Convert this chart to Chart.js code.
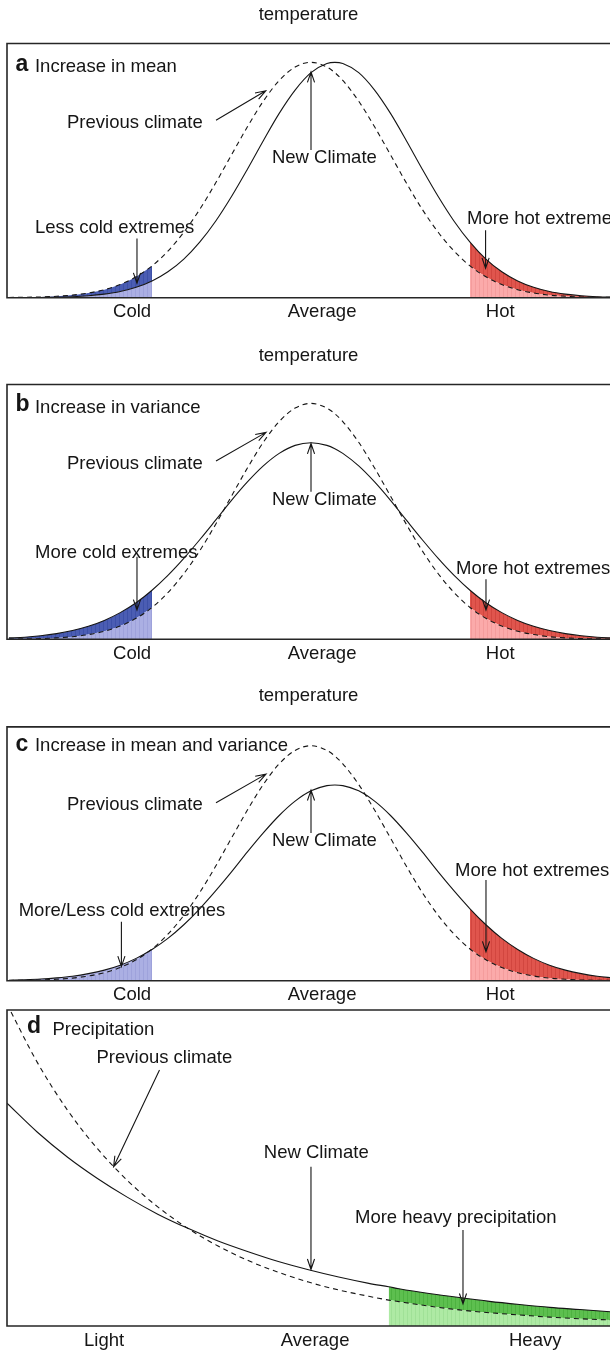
<!DOCTYPE html>
<html>
<head>
<meta charset="utf-8">
<script src="https://cdn.jsdelivr.net/npm/chart.js@4.4.1/dist/chart.umd.min.js"></script>
<style>
  html, body { margin: 0; padding: 0; background: #ffffff; width: 610px; height: 1353px; overflow: hidden; }
  .panel { position: absolute; left: 0; width: 610px; }
  canvas { display: block; }
</style>
</head>
<body>
<div class="panel" style="top:0px;height:330px"><canvas id="pa" width="610" height="330"></canvas></div>
<div class="panel" style="top:340px;height:330px"><canvas id="pb" width="610" height="330"></canvas></div>
<div class="panel" style="top:680px;height:325px"><canvas id="pc" width="610" height="325"></canvas></div>
<div class="panel" style="top:1000px;height:353px"><canvas id="pd" width="610" height="353"></canvas></div>
<script>
// ---------- data ----------
// temperature panels: x in units of the previous climate's standard deviation
const tempX = [-3.8,-3.6,-3.4,-3.2,-3.0,-2.8,-2.6,-2.4,-2.2,-2.0,-1.8,-1.6,-1.4,-1.2,-1.0,-0.8,-0.6,-0.4,-0.2,0,
               0.2,0.3,0.4,0.6,0.8,1.0,1.2,1.4,1.6,1.8,2.0,2.2,2.4,2.6,2.8,3.0,3.2,3.4,3.6,3.8];
const prevTemp = [0.001,0.002,0.003,0.006,0.011,0.020,0.034,0.056,0.089,0.135,0.198,0.278,0.375,0.487,0.607,0.726,0.835,0.923,0.980,1.000,
                  0.980,0.956,0.923,0.835,0.726,0.607,0.487,0.375,0.278,0.198,0.135,0.089,0.056,0.034,0.020,0.011,0.006,0.003,0.002,0.001];
const newMean = [0.000,0.000,0.001,0.002,0.004,0.008,0.015,0.026,0.044,0.071,0.110,0.164,0.236,0.325,0.430,0.546,0.667,0.783,0.882,0.956,
                 0.995,1.000,0.995,0.956,0.882,0.783,0.667,0.546,0.430,0.325,0.236,0.164,0.110,0.071,0.044,0.026,0.015,0.008,0.004,0.002];
const newVariance = [0.006,0.009,0.015,0.024,0.037,0.055,0.080,0.113,0.155,0.208,0.271,0.343,0.422,0.505,0.589,0.667,0.735,0.788,0.822,0.833,
                     0.822,0.808,0.788,0.735,0.667,0.589,0.505,0.422,0.343,0.271,0.208,0.155,0.113,0.080,0.055,0.037,0.024,0.015,0.009,0.006];
const newMeanVariance = [0.002,0.004,0.007,0.012,0.019,0.030,0.045,0.066,0.095,0.133,0.180,0.238,0.306,0.382,0.463,0.548,0.629,0.703,0.764,0.808,
                         0.830,0.833,0.830,0.808,0.764,0.703,0.629,0.548,0.463,0.382,0.306,0.238,0.180,0.133,0.095,0.066,0.045,0.030,0.019,0.012];
const coldLimit = -2.0;
const hotLimit = 2.0;
const tempTickValues = [-2.25, 0.14, 2.38];
const tempTickLabels = ['Cold', 'Average', 'Hot'];

// precipitation panel
const precipX = [0,0.5,1,1.5,2,2.5,3,3.5,4,4.5,5,5.5,6,6.33,6.5,7,7.5,8,8.5,9,9.5,10];
const prevPrecip = [1.019,0.835,0.684,0.561,0.460,0.377,0.309,0.253,0.207,0.170,0.139,0.114,0.094,0.082,0.077,0.063,0.051,0.042,0.035,0.028,0.023,0.019];
const newPrecip  = [0.705,0.614,0.535,0.467,0.407,0.354,0.309,0.269,0.235,0.204,0.178,0.155,0.135,0.124,0.118,0.103,0.090,0.078,0.068,0.059,0.052,0.045];
const heavyLimit = 6.33;
const precipTickValues = [1.61, 5.11, 8.76];
const precipTickLabels = ['Light', 'Average', 'Heavy'];

const titleText = 'temperature';

// annotation texts and arrows (data units)
const notesA = [
  { t: 'a', x: -3.717, y: 0.962, bold: true },
  { t: 'Increase in mean', x: -3.472, y: 0.959 },
  { t: 'Previous climate', x: -3.069, y: 0.719 },
  { t: 'New Climate', x: -0.491, y: 0.573 },
  { t: 'Less cold extremes', x: -3.472, y: 0.273 },
  { t: 'More hot extremes', x: 1.962, y: 0.313 }
];
const arrowsA = [[-1.195,0.754,-0.569,0.879],[0,0.627,0,0.959],[-2.189,0.252,-2.189,0.061],[2.196,0.287,2.196,0.125]];
const notesB = [
  { t: 'b', x: -3.717, y: 0.966, bold: true },
  { t: 'Increase in variance', x: -3.472, y: 0.961 },
  { t: 'Previous climate', x: -3.069, y: 0.720 },
  { t: 'New Climate', x: -0.491, y: 0.569 },
  { t: 'More cold extremes', x: -3.472, y: 0.343 },
  { t: 'More hot extremes', x: 1.824, y: 0.275 }
];
const arrowsB = [[-1.195,0.756,-0.566,0.877],[0,0.625,0,0.830],[-2.189,0.350,-2.189,0.124],[2.201,0.255,2.201,0.124]];
const notesC = [
  { t: 'c', x: -3.717, y: 0.978, bold: true },
  { t: 'Increase in mean and variance', x: -3.472, y: 0.978 },
  { t: 'Previous climate', x: -3.069, y: 0.726 },
  { t: 'New Climate', x: -0.491, y: 0.574 },
  { t: 'More hot extremes', x: 1.811, y: 0.445 },
  { t: 'More/Less cold extremes', x: -3.677, y: 0.275 }
];
const arrowsC = [[-1.195,0.757,-0.566,0.879],[0,0.629,0,0.811],[2.201,0.428,2.201,0.123],[-2.385,0.251,-2.385,0.060]];
const notesD = [
  { t: 'd', x: 0.332, y: 0.926, bold: true },
  { t: 'Precipitation', x: 0.755, y: 0.921 },
  { t: 'Previous climate', x: 1.484, y: 0.833 },
  { t: 'New Climate', x: 4.259, y: 0.531 },
  { t: 'More heavy precipitation', x: 5.771, y: 0.327 }
];
const arrowsD = [[2.529,0.810,1.768,0.504],[5.041,0.504,5.041,0.179],[7.562,0.304,7.562,0.070]];

// ---------- styling ----------
const FONT = '"Liberation Sans", Arial, Helvetica, sans-serif';
const INK = '#151515';
const TXT = 18.5;
const colors = {
  blueDark: ['#4b5db3', '#3d50a8'], blueLight: ['#abafe3', '#9ea2db'],
  redDark: ['#e0554d', '#d2463f'], redLight: ['#fbaaaa', '#f49c9c'],
  greenDark: ['#5dbf4f', '#4db240'], greenLight: ['#aeeaa4', '#a0e197']
};

function stripes(ctx, pair) {
  const c = document.createElement('canvas');
  c.width = 4; c.height = 4;
  const g = c.getContext('2d');
  g.fillStyle = pair[0]; g.fillRect(0, 0, 4, 4);
  g.fillStyle = pair[1]; g.fillRect(3, 0, 1, 4);
  return ctx.createPattern(c, 'repeat');
}

function pts(xs, ys, test) {
  const out = [];
  for (let i = 0; i < xs.length; i++) if (!test || test(xs[i])) out.push({ x: xs[i], y: ys[i] });
  return out;
}

function regionSets(ctx, xs, a, b, test, lightPair, darkPair) {
  const lo = [], hi = [];
  for (let i = 0; i < xs.length; i++) {
    if (!test(xs[i])) continue;
    lo.push({ x: xs[i], y: Math.min(a[i], b[i]) });
    hi.push({ x: xs[i], y: Math.max(a[i], b[i]) });
  }
  const common = { borderWidth: 0, pointRadius: 0, cubicInterpolationMode: 'monotone', order: 2 };
  return [
    Object.assign({ data: lo, fill: 'origin', backgroundColor: stripes(ctx, lightPair) }, common),
    Object.assign({ data: hi, fill: '-1', backgroundColor: stripes(ctx, darkPair) }, common)
  ];
}

function arrow(ctx, x1, y1, x2, y2) {
  const a = Math.atan2(y2 - y1, x2 - x1), L = 11, w = 0.33;
  ctx.beginPath();
  ctx.moveTo(x1, y1); ctx.lineTo(x2, y2);
  ctx.moveTo(x2 - L * Math.cos(a - w), y2 - L * Math.sin(a - w));
  ctx.lineTo(x2, y2);
  ctx.lineTo(x2 - L * Math.cos(a + w), y2 - L * Math.sin(a + w));
  ctx.stroke();
}

const decorPlugin = {
  id: 'decor',
  afterDatasetsDraw(chart) {
    const o = chart.options.plugins.decor;
    const { ctx, chartArea: ca } = chart;
    const sx = chart.scales.x, sy = chart.scales.y;
    ctx.save();
    // frame (right side lies outside the picture)
    ctx.strokeStyle = '#262626';
    ctx.lineWidth = 1.6;
    ctx.beginPath();
    ctx.moveTo(chart.width + 5, ca.top); ctx.lineTo(ca.left, ca.top);
    ctx.lineTo(ca.left, ca.bottom); ctx.lineTo(chart.width + 5, ca.bottom);
    ctx.stroke();
    // arrows
    ctx.strokeStyle = INK; ctx.lineWidth = 1.1;
    o.arrows.forEach(r => arrow(ctx, sx.getPixelForValue(r[0]), sy.getPixelForValue(r[1]),
                                     sx.getPixelForValue(r[2]), sy.getPixelForValue(r[3])));
    // texts
    ctx.fillStyle = INK;
    ctx.textAlign = 'left';
    ctx.textBaseline = 'alphabetic';
    o.notes.forEach(n => {
      ctx.font = n.bold ? 'bold 23px ' + FONT : TXT + 'px ' + FONT;
      ctx.fillText(n.t, sx.getPixelForValue(n.x), sy.getPixelForValue(n.y));
    });
    ctx.restore();
  }
};

function makePanel(id, spec) {
  const canvas = document.getElementById(id);
  const ctx = canvas.getContext('2d');
  const curveCommon = { pointRadius: 0, fill: false, borderColor: INK, borderWidth: 1.1, cubicInterpolationMode: 'monotone', order: 0 };
  const datasets = [];
  spec.regions.forEach(r => regionSets(ctx, spec.xs, spec.prev, spec.next, r.test, r.light, r.dark).forEach(d => datasets.push(d)));
  datasets.push(Object.assign({ label: 'Previous climate', data: pts(spec.xs, spec.prev), borderDash: [5, 4] }, curveCommon));
  datasets.push(Object.assign({ label: 'New Climate', data: pts(spec.xs, spec.next) }, curveCommon));
  return new Chart(ctx, {
    type: 'line',
    data: { datasets },
    options: {
      responsive: false, animation: false, devicePixelRatio: 1,
      layout: { padding: { left: 7, right: 0, top: spec.padTop || 0, bottom: 0 } },
      plugins: {
        legend: { display: false }, tooltip: { enabled: false },
        title: {
          display: !!spec.title, text: spec.title || '', color: INK,
          font: { size: TXT, family: FONT, weight: 'normal', lineHeight: 1.2 },
          padding: { top: spec.titleTop || 0, bottom: spec.titleBottom || 0 }
        },
        decor: { notes: spec.notes, arrows: spec.arrows }
      },
      scales: {
        x: {
          type: 'linear', min: spec.xmin, max: spec.xmax,
          grid: { display: false, drawTicks: false }, border: { display: false },
          afterBuildTicks: s => { s.ticks = spec.tickValues.map(v => ({ value: v })); },
          afterFit: s => { s.height = spec.axisH; },
          ticks: {
            autoSkip: false, maxRotation: 0, padding: 3.5, color: INK,
            font: { size: TXT, family: FONT },
            callback: (v, i) => spec.tickLabels[i]
          }
        },
        y: { display: false, min: 0, max: spec.ymax }
      }
    },
    plugins: [decorPlugin]
  });
}

const isCold = x => x <= coldLimit;
const isHot = x => x >= hotLimit;
const isHeavy = x => x >= heavyLimit;

const tempBase = { xs: tempX, prev: prevTemp, xmin: -3.824, xmax: 3.761, ymax: 1.08,
                   tickValues: tempTickValues, tickLabels: tempTickLabels, title: titleText };

makePanel('pa', Object.assign({}, tempBase, {
  next: newMean, titleTop: 3.5, titleBottom: 17.8, axisH: 32.3,
  regions: [{ test: isCold, light: colors.blueLight, dark: colors.blueDark },
            { test: isHot, light: colors.redLight, dark: colors.redDark }],
  notes: notesA, arrows: arrowsA
}));
makePanel('pb', Object.assign({}, tempBase, {
  next: newVariance, titleTop: 4.5, titleBottom: 17.8, axisH: 30.7,
  regions: [{ test: isCold, light: colors.blueLight, dark: colors.blueDark },
            { test: isHot, light: colors.redLight, dark: colors.redDark }],
  notes: notesB, arrows: arrowsB
}));
makePanel('pc', Object.assign({}, tempBase, {
  next: newMeanVariance, titleTop: 5.2, titleBottom: 19.5, axisH: 24.3,
  regions: [{ test: isCold, light: colors.blueLight, dark: colors.blueLight },
            { test: isHot, light: colors.redLight, dark: colors.redDark }],
  notes: notesC, arrows: arrowsC
}));
makePanel('pd', {
  xs: precipX, prev: prevPrecip, next: newPrecip, xmin: 0, xmax: 10, ymax: 1.0,
  tickValues: precipTickValues, tickLabels: precipTickLabels, title: '',
  padTop: 10, axisH: 27,
  regions: [{ test: isHeavy, light: colors.greenLight, dark: colors.greenDark }],
  notes: notesD, arrows: arrowsD
});
</script>
</body>
</html>
